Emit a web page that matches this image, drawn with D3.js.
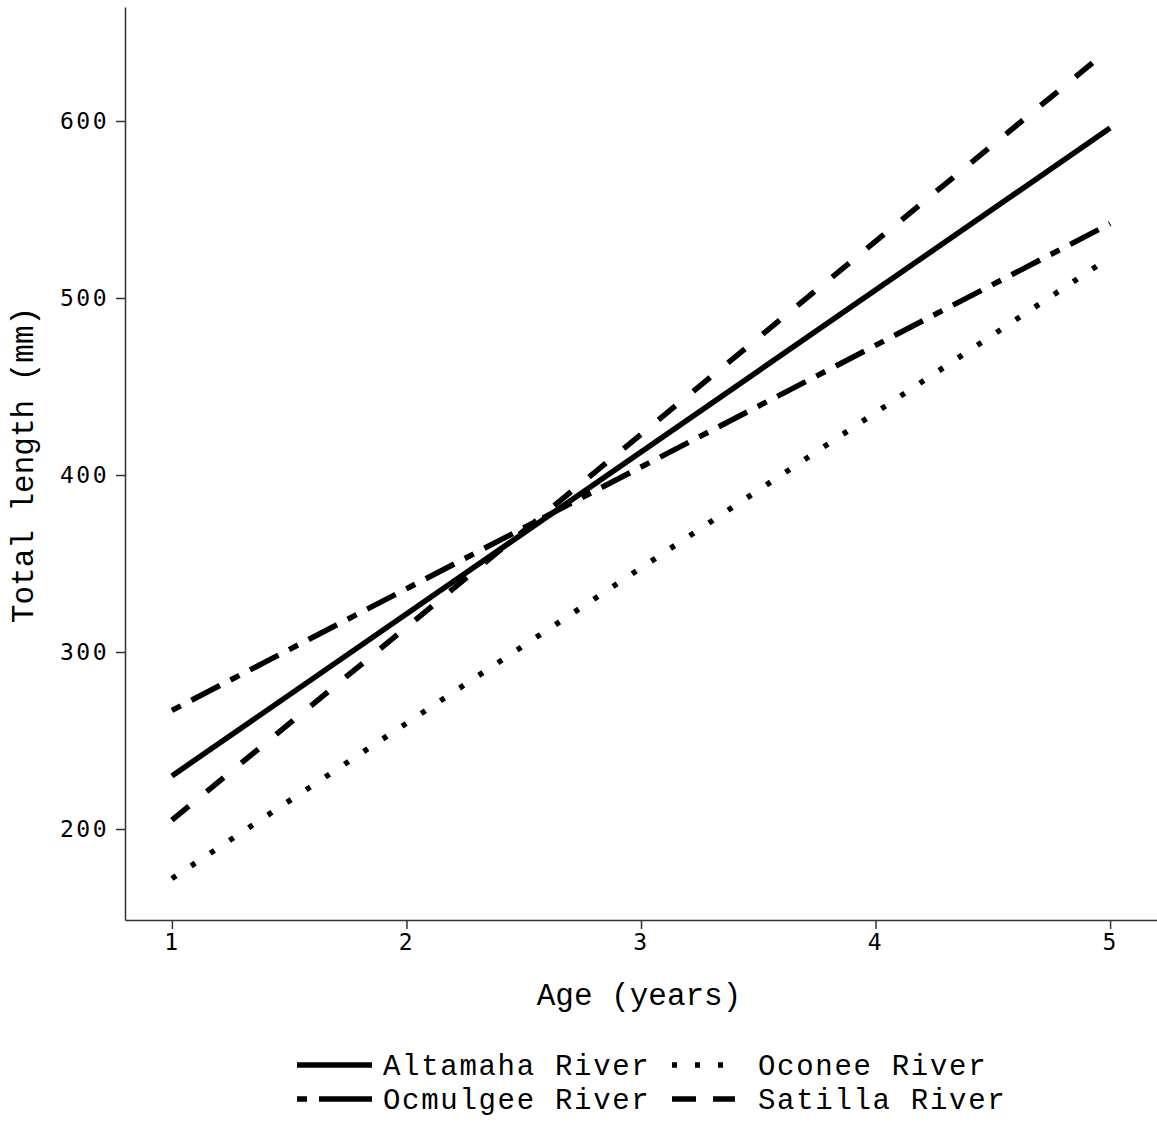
<!DOCTYPE html>
<html>
<head>
<meta charset="utf-8">
<script src="https://cdn.jsdelivr.net/npm/d3@7"></script>
<style>
  html, body { margin: 0; padding: 0; background: #fff; }
  svg { display: block; }
  .tick text { font-family: "DejaVu Sans Mono", monospace; font-size: 23px; letter-spacing: 2.5px; fill: #000; }
  .title { font-family: "Liberation Mono", "Courier New", monospace; font-size: 31px; fill: #000; }
  .legend-text { font-family: "Liberation Mono", "Courier New", monospace; font-size: 29px; letter-spacing: 1.7px; fill: #000; }
</style>
</head>
<body>
<svg id="chart" width="1157" height="1146"></svg>
<script>
// Fitted growth lines: total length at age 1 and age 5 for each river
const ages = [1, 5];
const rivers = ["Altamaha River", "Ocmulgee River", "Oconee River", "Satilla River"];
const altamaha = [230, 596];
const ocmulgee = [267, 542];
const oconee = [172, 523];
const satilla = [205, 641];
const xTicks = [1, 2, 3, 4, 5];
const yTicks = [200, 300, 400, 500, 600];

const series = [
  { name: rivers[0], values: altamaha, dash: null },
  { name: rivers[1], values: ocmulgee, dash: "10,12,32,12" },
  { name: rivers[2], values: oconee, dash: "5,18" },
  { name: rivers[3], values: satilla, dash: "22,23" }
];

const svg = d3.select("#chart");
const x = d3.scaleLinear().domain([0.8, 5.2]).range([125, 1157]);
const y = d3.scaleLinear().domain([148.6, 664.4]).range([920, 7]);

// Axes
const xAxis = svg.append("g").attr("transform", "translate(0,920)")
  .call(d3.axisBottom(x).tickValues(xTicks).tickFormat(d3.format("d"))
    .tickSizeInner(9).tickSizeOuter(0).tickPadding(5));
const yAxis = svg.append("g").attr("transform", "translate(125,0)")
  .call(d3.axisLeft(y).tickValues(yTicks).tickFormat(d3.format("d"))
    .tickSizeInner(9).tickSizeOuter(0).tickPadding(7));
[xAxis, yAxis].forEach(a => {
  a.select(".domain").attr("stroke", "#333").attr("stroke-width", 1.5);
  a.selectAll(".tick line").attr("stroke", "#333").attr("stroke-width", 1.5);
});

// Axis titles
svg.append("text").attr("class", "title")
  .attr("x", 639).attr("y", 1005).attr("text-anchor", "middle")
  .text("Age (years)");
svg.append("text").attr("class", "title")
  .attr("transform", "translate(33,465) rotate(-90)").attr("text-anchor", "middle")
  .text("Total length (mm)");

// Growth lines
const line = d3.line().x((d, i) => x(ages[i])).y(d => y(d));
svg.append("g").selectAll("path").data(series).join("path")
  .attr("d", d => line(d.values))
  .attr("fill", "none")
  .attr("stroke", "#000")
  .attr("stroke-width", 5.5)
  .attr("stroke-dasharray", d => d.dash);

// Legend (two columns, two rows)
const legendItems = [
  { s: series[0], col: 0, row: 0 },
  { s: series[2], col: 1, row: 0 },
  { s: series[1], col: 0, row: 1 },
  { s: series[3], col: 1, row: 1 }
];
const colX = [297, 672];
const rowY = [1065, 1099];
const legendDash = { [rivers[0]]: null, [rivers[1]]: "10,12,50,0", [rivers[2]]: "5,18", [rivers[3]]: "24,17" };
const lg = svg.append("g").selectAll("g").data(legendItems).join("g")
  .attr("transform", d => `translate(${colX[d.col]},${rowY[d.row]})`);
lg.append("line")
  .attr("x1", 0).attr("x2", d => d.col === 0 ? 75 : 63)
  .attr("y1", 0).attr("y2", 0)
  .attr("stroke", "#000").attr("stroke-width", 5.5)
  .attr("stroke-dasharray", d => legendDash[d.s.name]);
lg.append("text").attr("class", "legend-text")
  .attr("x", 86)
  .attr("y", 10)
  .text(d => d.s.name);
</script>
</body>
</html>
